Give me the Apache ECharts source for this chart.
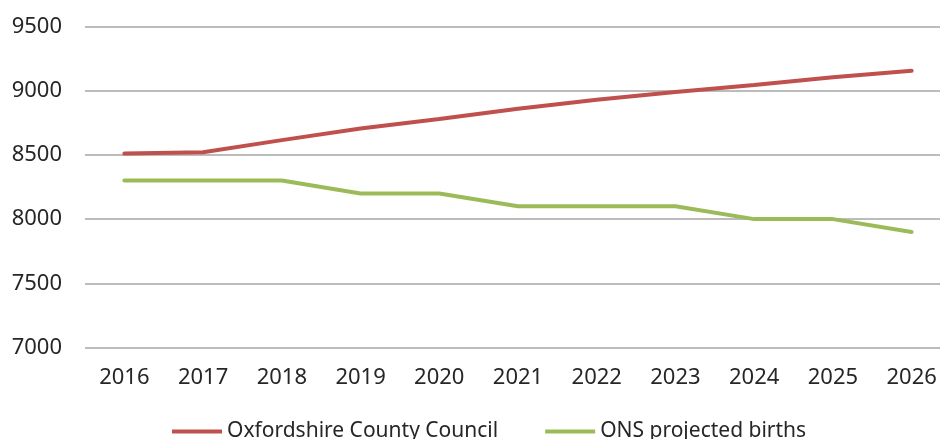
<!DOCTYPE html>
<html>
<head>
<meta charset="utf-8">
<script src="https://cdn.jsdelivr.net/npm/echarts@6/dist/echarts.min.js"></script>
<style>html,body{margin:0;padding:0;background:#fff;overflow:hidden;width:940px;height:439px;}#c{width:951px;height:439px;}</style>
</head>
<body>
<div id="c"></div>
<script>
var years = ['2016','2017','2018','2019','2020','2021','2022','2023','2024','2025','2026'];
var oxfordshire = [8510, 8520, 8615, 8705, 8780, 8860, 8930, 8990, 9045, 9105, 9155];
var onsBirths = [8300, 8300, 8300, 8200, 8200, 8100, 8100, 8100, 8000, 8000, 7900];
var seriesNames = ['Oxfordshire County Council', 'ONS projected births'];

var chart = echarts.init(document.getElementById('c'), null, {renderer: 'canvas'});
var font = 'Noto Sans';
chart.setOption({
  animation: false,
  backgroundColor: '#ffffff',
  grid: {left: 85, right: 0, top: 26.5, bottom: 91.5, containLabel: false},
  legend: {
    bottom: -8,
    left: 167,
    itemWidth: 50,
    itemHeight: 4,
    itemGap: 47,
    icon: 'rect',
    textStyle: {fontFamily: font, fontSize: 21, color: '#262626'},
    data: seriesNames
  },
  xAxis: {
    type: 'category',
    data: years,
    boundaryGap: true,
    axisLine: {show: false},
    axisTick: {show: false},
    axisLabel: {fontFamily: font, fontSize: 22, color: '#262626', margin: 19}
  },
  yAxis: {
    type: 'value',
    min: 7000,
    max: 9500,
    interval: 500,
    axisLine: {show: false},
    axisTick: {show: false},
    axisLabel: {fontFamily: font, fontSize: 22, color: '#262626', margin: 23,
      formatter: function (v) { return String(v); }},
    splitLine: {lineStyle: {color: '#a6a6a6', width: 1.5}}
  },
  series: [
    {
      name: seriesNames[0],
      type: 'line',
      data: oxfordshire,
      symbol: 'none',
      itemStyle: {color: '#c0504d'},
      lineStyle: {color: '#c0504d', width: 4, cap: 'round'}
    },
    {
      name: seriesNames[1],
      type: 'line',
      data: onsBirths,
      symbol: 'none',
      itemStyle: {color: '#9bbb59'},
      lineStyle: {color: '#9bbb59', width: 4, cap: 'round'}
    }
  ]
});
</script>
</body>
</html>
